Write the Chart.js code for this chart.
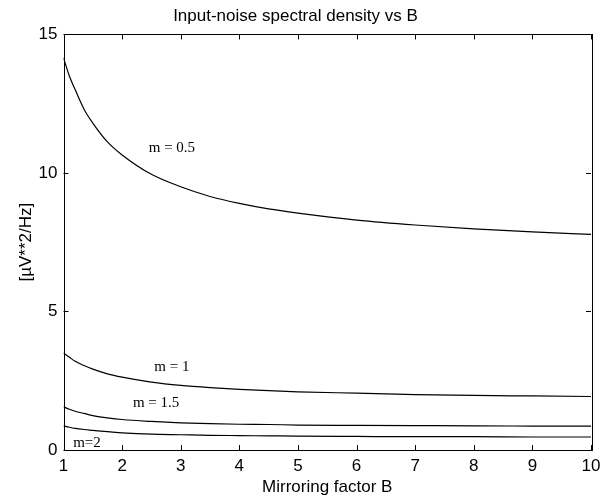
<!DOCTYPE html>
<html>
<head>
<meta charset="utf-8">
<script src="https://cdn.jsdelivr.net/npm/chart.js@4/dist/chart.umd.min.js"></script>
<style>
  html, body { margin: 0; padding: 0; background: #fff; }
  #wrap { width: 608px; height: 501px; position: relative; }
</style>
</head>
<body>
<div id="wrap"><canvas id="c"></canvas></div>
<script>
// Mirroring factor B (x samples)
const mirroringB = [1, 1.1, 1.2, 1.35, 1.5, 1.75, 2, 2.5, 3, 3.5, 4, 4.5, 5, 6, 7, 8, 9, 10];
// Input-noise spectral density [µV**2/Hz] for each m
const densityM05 = [14.15, 13.5, 13.0, 12.3, 11.8, 11.12, 10.65, 9.95, 9.5, 9.15, 8.9, 8.7, 8.55, 8.3, 8.12, 7.98, 7.87, 7.78];
const densityM1  = [3.5, 3.35, 3.2, 3.05, 2.92, 2.75, 2.63, 2.45, 2.33, 2.25, 2.19, 2.14, 2.1, 2.05, 2.0, 1.97, 1.95, 1.93];
const densityM15 = [1.56, 1.47, 1.4, 1.32, 1.24, 1.16, 1.1, 1.03, 0.98, 0.95, 0.93, 0.92, 0.9, 0.89, 0.88, 0.87, 0.865, 0.86];
const densityM2  = [0.87, 0.82, 0.78, 0.74, 0.71, 0.66, 0.62, 0.57, 0.55, 0.53, 0.52, 0.51, 0.5, 0.49, 0.48, 0.48, 0.47, 0.47];
const seriesNames = ["m = 0.5", "m = 1", "m = 1.5", "m=2"];
// Tick values
const xTicks = [1, 2, 3, 4, 5, 6, 7, 8, 9, 10];
const yTicks = [0, 5, 10, 15];
// Curve labels anchored in data space [B, density]
const curveLabelAnchors = [[2.85, 10.9], [2.85, 3.0], [2.58, 1.7], [1.4, 0.25]];

const allSeries = [densityM05, densityM1, densityM15, densityM2];
const datasets = allSeries.map((vals, i) => ({
  label: seriesNames[i],
  data: mirroringB.map((b, j) => ({ x: b, y: vals[j] })),
  borderColor: '#000',
  borderWidth: 1.2,
  pointRadius: 0,
  cubicInterpolationMode: 'monotone',
  fill: false
}));

const FONT = "'Liberation Sans', Arial, Helvetica, sans-serif";

const framePlugin = {
  id: 'frame',
  beforeDraw(chart) {
    const ctx = chart.ctx;
    ctx.save();
    ctx.fillStyle = '#fff';
    ctx.fillRect(0, 0, chart.width, chart.height);
    ctx.restore();
  },
  afterDraw(chart) {
    const { ctx, chartArea: a, scales } = chart;
    ctx.save();
    ctx.strokeStyle = '#000';
    ctx.lineWidth = 1;
    ctx.strokeRect(Math.round(a.left) + 0.5, Math.round(a.top) + 0.5,
                   Math.round(a.right - a.left), Math.round(a.bottom - a.top));
    const tl = 5;
    ctx.beginPath();
    xTicks.forEach(v => {
      const px = Math.round(scales.x.getPixelForValue(v)) + 0.5;
      ctx.moveTo(px, a.bottom); ctx.lineTo(px, a.bottom - tl);
      ctx.moveTo(px, a.top); ctx.lineTo(px, a.top + tl);
    });
    yTicks.forEach(v => {
      const py = Math.round(scales.y.getPixelForValue(v)) + 0.5;
      ctx.moveTo(a.left, py); ctx.lineTo(a.left + tl, py);
      ctx.moveTo(a.right, py); ctx.lineTo(a.right - tl, py);
    });
    ctx.stroke();
    // curve labels
    ctx.fillStyle = '#000';
    ctx.font = "15px 'Liberation Serif', 'Times New Roman', serif";
    ctx.textAlign = 'center';
    ctx.textBaseline = 'middle';
    curveLabelAnchors.forEach((p, i) => {
      ctx.fillText(seriesNames[i], scales.x.getPixelForValue(p[0]), scales.y.getPixelForValue(p[1]));
    });
    ctx.restore();
  }
};

new Chart(document.getElementById('c'), {
  type: 'line',
  data: { datasets },
  plugins: [framePlugin],
  options: {
    responsive: true,
    maintainAspectRatio: false,
    animation: false,
    layout: { padding: { left: 0, right: 17, top: 0, bottom: 0 } },
    plugins: {
      legend: { display: false },
      tooltip: { enabled: false },
      title: {
        display: true,
        text: 'Input-noise spectral density vs B',
        color: '#000',
        font: { family: FONT, size: 17, weight: 'normal' },
        padding: { top: 6, bottom: 8 }
      }
    },
    scales: {
      x: {
        type: 'linear',
        min: 1, max: 10,
        afterFit(scale) { scale.height = 51; },
        afterBuildTicks(scale) { scale.ticks = xTicks.map(v => ({ value: v })); },
        ticks: { color: '#000', font: { family: FONT, size: 17 }, padding: 6, maxRotation: 0, autoSkip: false },
        grid: { display: false, drawTicks: false },
        border: { display: false },
        title: {
          display: true, text: 'Mirroring factor B', color: '#000',
          font: { family: FONT, size: 17 }, padding: { top: 0, bottom: 3 }
        }
      },
      y: {
        type: 'linear',
        min: 0, max: 15,
        afterFit(scale) { scale.width = 63.5; },
        afterBuildTicks(scale) { scale.ticks = yTicks.map(v => ({ value: v })); },
        ticks: { color: '#000', font: { family: FONT, size: 17 }, padding: 6, autoSkip: false },
        grid: { display: false, drawTicks: false },
        border: { display: false },
        title: {
          display: true, text: '[µV**2/Hz]', color: '#000',
          font: { family: FONT, size: 17 }, padding: { top: 16, bottom: 0 }
        }
      }
    }
  }
});
</script>
</body>
</html>
